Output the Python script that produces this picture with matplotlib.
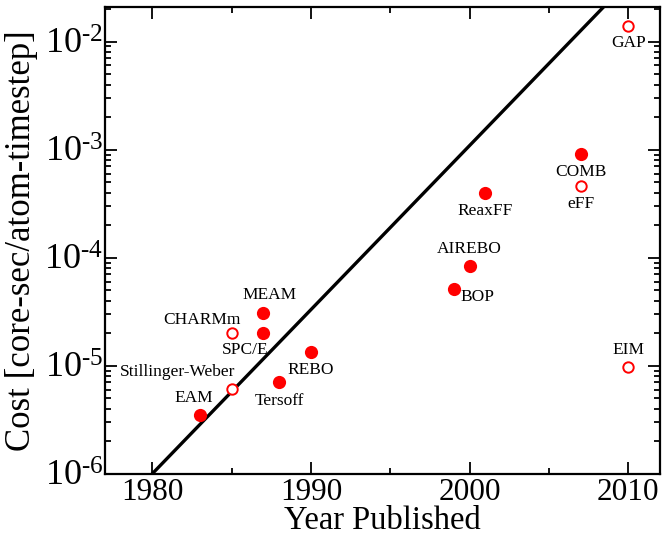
import numpy as np
import matplotlib
matplotlib.use("Agg")
import matplotlib.pyplot as plt
from matplotlib.ticker import MultipleLocator, LogLocator, NullFormatter

plt.rcParams["font.family"] = ["Liberation Serif", "DejaVu Serif"]
plt.rcParams["mathtext.fontset"] = "custom"
plt.rcParams["mathtext.rm"] = "Liberation Serif"
plt.rcParams["mathtext.it"] = "Liberation Serif:italic"
plt.rcParams["mathtext.bf"] = "Liberation Serif:bold"

# potentials: name, year, cost [core-sec/atom-timestep], filled?
names = ["EAM", "Stillinger-Weber", "CHARMm", "MEAM", "SPC/E", "Tersoff", "REBO",
         "BOP", "AIREBO", "ReaxFF", "COMB", "eFF", "GAP", "EIM"]
years = [1983, 1985, 1985, 1987, 1987, 1988, 1990,
         1999, 2000, 2001, 2007, 2007, 2010, 2010]
costs = [3.5e-6, 6.1e-6, 2.0e-5, 3.05e-5, 2.0e-5, 7.1e-6, 1.33e-5,
         5.1e-5, 8.3e-5, 4.0e-4, 9.1e-4, 4.6e-4, 1.4e-2, 9.8e-6]
filled = [True, False, False, True, True, True, True,
          True, True, True, True, False, False, False]

# trend line (clipped by the axes)
line_years = [1980, 2010]
line_costs = [1e-6, 3.6e-2]

ytick_vals = [1e-6, 1e-5, 1e-4, 1e-3, 1e-2]
ytick_exp = ["-6", "-5", "-4", "-3", "-2"]

# label offsets in pixels (dx, dy)
label_off = {
    "EAM": (-6, 17), "Stillinger-Weber": (-54, 17), "CHARMm": (-30, 13),
    "MEAM": (6, 18), "SPC/E": (-18, -17), "Tersoff": (0, -19), "REBO": (0, -18),
    "BOP": (24, -8), "AIREBO": (0, 17), "ReaxFF": (0, -18), "COMB": (0, -18),
    "eFF": (0, -18), "GAP": (0, -17), "EIM": (0, 17),
}

fig = plt.figure(figsize=(6.64, 5.36), dpi=100)
ax = fig.add_axes([0.1577, 0.1162, 0.9940 - 0.1577, 0.9875 - 0.1162])

ax.plot(line_years, line_costs, "-", color="black", lw=2.4, zorder=2)

for n, x, y, f in zip(names, years, costs, filled):
    if f:
        ax.plot(x, y, "o", ms=9.5, mfc="#ff0000", mec="#ff0000", mew=0, zorder=3)
    else:
        ax.plot(x, y, "o", ms=7.5, mfc="white", mec="#ff0000", mew=1.4, zorder=3)
    dx, dy = label_off[n]
    ax.annotate(n, (x, y), xytext=(dx, dy), textcoords="offset pixels",
                ha="center", va="center", fontsize=12.5, zorder=4)

ax.set_yscale("log")
ax.set_xlim(1977, 2012)
ax.set_ylim(1e-6, 2.1e-2)

ax.xaxis.set_major_locator(MultipleLocator(10))
ax.xaxis.set_minor_locator(MultipleLocator(5))
ax.yaxis.set_minor_locator(LogLocator(base=10, subs=np.arange(2, 10), numticks=20))
ax.yaxis.set_minor_formatter(NullFormatter())
ax.set_yticks(ytick_vals)
ax.set_yticklabels([r"$\mathregular{10^{\text{%s}}}$" % e for e in ytick_exp])

ax.tick_params(which="both", direction="in", top=True, right=True, width=1.3)
ax.tick_params(which="major", length=8.5)
ax.tick_params(which="minor", length=4.5)
ax.tick_params(axis="x", labelsize=22.5, pad=3)
ax.tick_params(axis="y", labelsize=26, pad=1)
for s in ax.spines.values():
    s.set_linewidth(1.6)

ax.set_xlabel("Year Published", fontsize=23.5, va="baseline")
ax.xaxis.set_label_coords(0.5, (473.7 - 529) / 467)
ax.set_ylabel("Cost [core-sec/atom-timestep]", fontsize=25, va="center")
ax.yaxis.set_label_coords((21 - 104.7) / 555.3, 0.5)

fig.savefig("out.png", dpi=100)
